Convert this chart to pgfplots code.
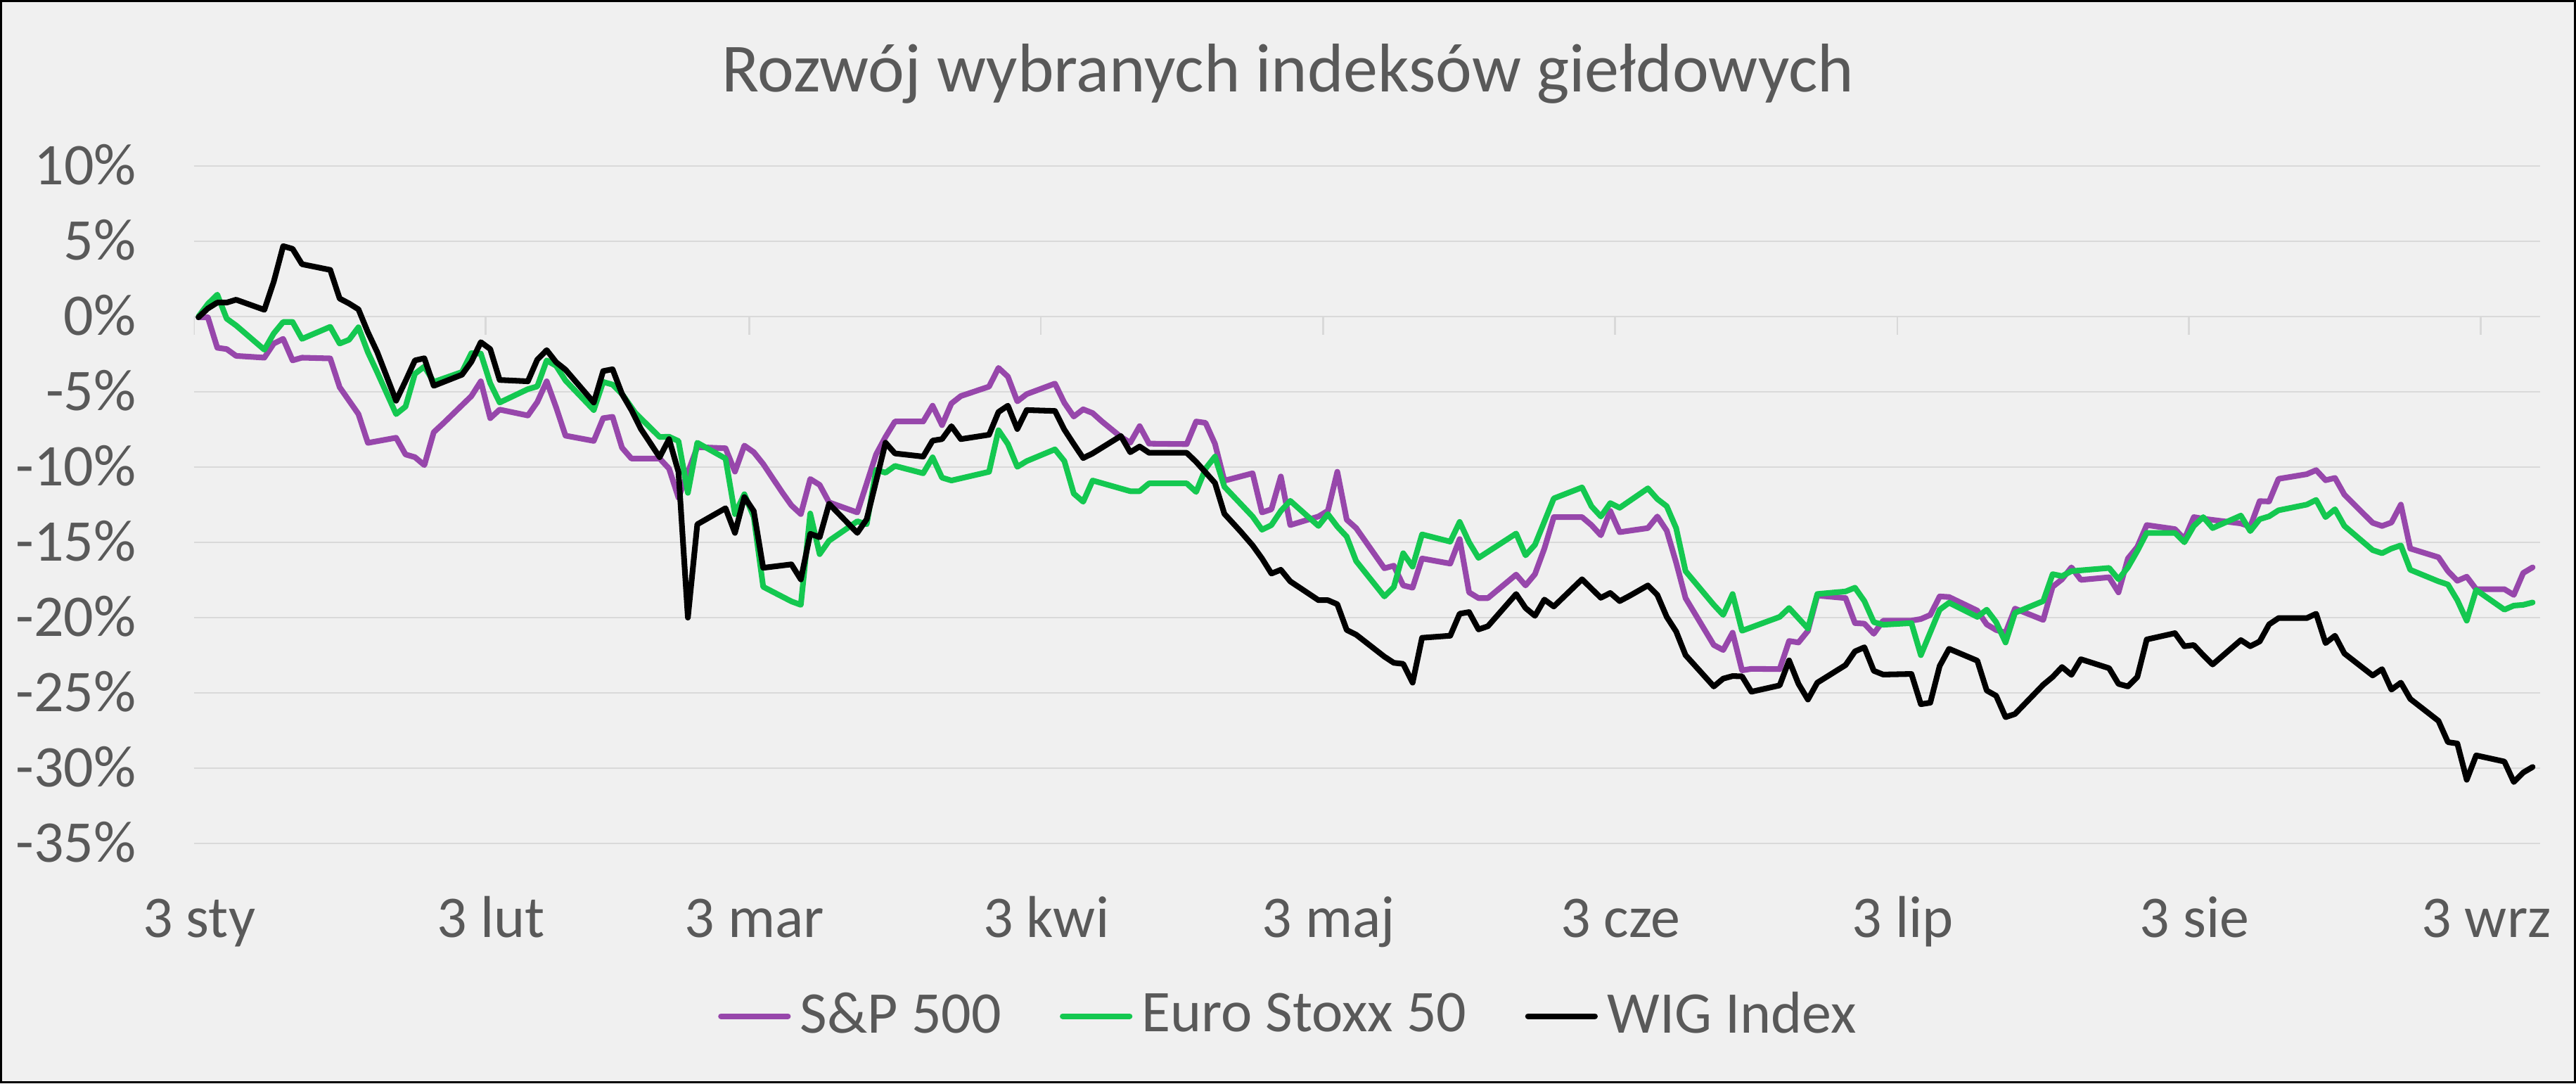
\documentclass[border=0pt]{standalone}
\usepackage{pgfplots}
\pgfplotsset{compat=1.18}
\usepackage{fontspec}
\setmainfont{Carlito}
\definecolor{spcol}{RGB}{151,71,171}
\definecolor{eucol}{RGB}{20,200,80}
\definecolor{txt}{RGB}{89,89,89}
\definecolor{grd}{RGB}{217,217,217}
\definecolor{bg}{RGB}{240,240,240}
\begin{document}
\begin{tikzpicture}
\useasboundingbox (0,0) rectangle (523.29pt,220pt);
\fill[bg] (0,0) rectangle (523.29pt,220pt);
\draw[black, line width=0.45pt] (0.22pt,0.22pt) rectangle (523.07pt,219.78pt);
\node[anchor=base, text=txt, font=\fontsize{14}{16}\selectfont, inner sep=0pt] at (261.64pt,201.4pt) {Rozwój wybranych indeksów giełdowych};
\begin{axis}[
 at={(39.36pt,48.71pt)}, anchor=south west,
 scale only axis, width=476.64pt, height=137.57pt,
 xmin=0, xmax=249.3, ymin=-35, ymax=10,
 axis line style={draw=none},
 major tick length=0pt,
 ytick={-35,-30,...,10},
 yticklabels={-35\%,-30\%,-25\%,-20\%,-15\%,-10\%,-5\%,0\%,5\%,10\%},
 xtick={0,31,59,90,120,151,181,212,243},
 xticklabels={3 sty,3 lut,3 mar,3 kwi,3 maj,3 cze,3 lip,3 sie,3 wrz},
 tick label style={font=\fontsize{12}{14}\selectfont, text=txt, inner sep=0pt},
 yticklabel style={anchor=base east, xshift=-11.5pt, yshift=-3.8pt},
 xticklabel style={anchor=base, yshift=-19pt, xshift=1.1pt},
 xmajorgrids=false, ymajorgrids=true, grid style={grd, line width=0.4pt},
 legend columns=3,
 legend style={at={(0.468,-0.255)}, anchor=center, draw=none, fill=none,
   font=\fontsize{12}{14}\selectfont, text=txt, inner sep=0pt,
   nodes={inner sep=1.9pt},
   /tikz/every even column/.append style={column sep=10pt}},
 legend image code/.code={\draw[#1, line width=1.15pt, line cap=round] (0pt,0pt) -- (13.6pt,0pt);},
 every axis plot/.append style={line width=1.15pt, line join=round, line cap=round},
]
\pgfplotsinvokeforeach{0,31,59,90,120,151,181,212,243}{
  \draw[grd, line width=0.4pt] (axis cs:#1,0) -- ([yshift=-3.7pt]axis cs:#1,0);
}
\addplot[spcol] coordinates {
(0.5,-0.05)(1.5,-0.05)(2.5,-2.07)(3.5,-2.16)(4.5,-2.61)(7.5,-2.73)(8.5,-1.79)(9.5,-1.48)(10.5,-2.91)(11.5,-2.73)
(14.5,-2.78)(15.5,-4.69)(17.5,-6.48)(18.5,-8.39)(21.5,-8.05)(22.5,-9.16)(23.5,-9.34)(24.5,-9.87)(25.5,-7.68)(26.5,-7.10)
(29.5,-5.28)(30.5,-4.30)(31.5,-6.75)(32.5,-6.18)(35.5,-6.57)(36.5,-5.68)(37.5,-4.30)(38.5,-6.03)(39.5,-7.91)(42.5,-8.26)
(43.5,-6.75)(44.5,-6.66)(45.5,-8.71)(46.5,-9.43)(49.5,-9.43)(50.5,-10.1)(51.5,-12.03)(53.5,-8.67)(56.5,-8.75)(57.5,-10.3)
(58.5,-8.57)(59.5,-9.01)(60.5,-9.79)(62.5,-11.66)(63.5,-12.54)(64.5,-13.12)(65.5,-10.79)(66.5,-11.18)(67.5,-12.34)(70.5,-13.01)
(71.5,-11.08)(72.5,-9.15)(73.5,-7.99)(74.5,-6.97)(77.5,-6.97)(78.5,-5.92)(79.5,-7.21)(80.5,-5.77)(81.5,-5.28)(84.5,-4.65)
(85.5,-3.41)(86.5,-3.99)(87.5,-5.63)(88.5,-5.15)(91.5,-4.45)(92.5,-5.73)(93.5,-6.64)(94.5,-6.16)(95.5,-6.41)(96.5,-6.97)
(98.5,-7.99)(99.5,-8.38)(100.5,-7.28)(101.5,-8.44)(105.5,-8.47)(106.5,-6.97)(107.5,-7.06)(108.5,-8.45)(109.5,-10.9)(112.5,-10.41)
(113.5,-13.01)(114.5,-12.8)(115.5,-10.62)(116.5,-13.85)(119.5,-13.28)(120.5,-12.9)(121.5,-10.31)(122.5,-13.49)(123.5,-14.05)(126.5,-16.72)
(127.5,-16.55)(128.5,-17.86)(129.5,-18.01)(130.5,-16.07)(133.5,-16.41)(134.5,-14.78)(135.5,-18.32)(136.5,-18.7)(137.5,-18.7)(140.5,-17.14)
(141.5,-17.86)(142.5,-17.11)(143.5,-15.41)(144.5,-13.32)(147.5,-13.32)(148.5,-13.85)(149.5,-14.53)(150.5,-12.91)(151.5,-14.32)(154.5,-14.05)
(155.5,-13.28)(156.5,-14.22)(157.5,-16.34)(158.5,-18.7)(161.5,-21.82)(162.5,-22.15)(163.5,-21.0)(164.5,-23.5)(165.5,-23.4)(168.5,-23.42)
(169.5,-21.55)(170.5,-21.65)(171.5,-20.88)(172.5,-18.53)(175.5,-18.7)(176.5,-20.36)(177.5,-20.4)(178.5,-21.07)(179.5,-20.2)(182.5,-20.2)
(183.5,-20.09)(184.5,-19.82)(185.5,-18.59)(186.5,-18.63)(189.5,-19.53)(190.5,-20.45)(191.5,-20.82)(192.5,-21.0)(193.5,-19.4)(196.5,-20.15)
(197.5,-17.95)(198.5,-17.45)(199.5,-16.66)(200.5,-17.49)(203.5,-17.32)(204.5,-18.32)(205.5,-16.07)(206.5,-15.3)(207.5,-13.85)(210.5,-14.12)
(211.5,-14.78)(212.5,-13.32)(213.5,-13.43)(217.5,-13.74)(218.5,-13.95)(219.5,-12.26)(220.5,-12.28)(221.5,-10.78)(224.5,-10.47)(225.5,-10.2)
(226.5,-10.87)(227.5,-10.72)(228.5,-11.83)(231.5,-13.7)(232.5,-13.91)(233.5,-13.68)(234.5,-12.49)(235.5,-15.41)(238.5,-15.99)(239.5,-16.91)
(240.5,-17.55)(241.5,-17.28)(242.5,-18.11)(245.5,-18.11)(246.5,-18.49)(247.5,-17.03)(248.5,-16.66)
};
\addlegendentry{S\&P 500}
\addplot[eucol] coordinates {
(0.5,0)(1.5,0.84)(2.5,1.46)(3.5,-0.14)(4.5,-0.59)(7.5,-2.2)(8.5,-1.12)(9.5,-0.36)(10.5,-0.36)(11.5,-1.48)
(14.5,-0.68)(15.5,-1.79)(16.5,-1.54)(17.5,-0.71)(18.5,-2.37)(19.5,-3.71)(21.5,-6.48)(22.5,-5.98)(23.5,-3.80)(24.5,-3.32)
(25.5,-4.34)(28.5,-3.68)(29.5,-2.43)(30.5,-2.46)(31.5,-4.43)(32.5,-5.71)(35.5,-4.82)(36.5,-4.64)(37.5,-2.91)(38.5,-3.27)
(39.5,-4.25)(42.5,-6.21)(43.5,-4.34)(44.5,-4.52)(45.5,-5.14)(46.9,-6.39)(49.5,-8.0)(50.5,-7.98)(51.5,-8.27)(52.5,-11.71)
(53.5,-8.38)(56.5,-9.43)(57.5,-13.12)(58.5,-11.80)(59.5,-13.31)(60.5,-17.95)(63.5,-18.92)(64.5,-19.15)(65.5,-13.08)(66.5,-15.78)
(67.5,-14.89)(70.5,-13.60)(71.5,-13.79)(72.5,-10.18)(73.5,-10.37)(74.5,-9.92)(77.5,-10.41)(78.5,-9.35)(79.5,-10.70)(80.5,-10.89)
(84.5,-10.31)(85.5,-7.55)(86.5,-8.47)(87.5,-9.98)(88.5,-9.60)(91.5,-8.82)(92.5,-9.60)(93.5,-11.76)(94.5,-12.30)(95.5,-10.89)
(99.5,-11.60)(100.5,-11.60)(101.5,-11.08)(105.5,-11.08)(106.5,-11.65)(107.5,-10.1)(108.5,-9.3)(109.5,-11.3)(112.5,-13.28)(113.5,-14.16)
(114.5,-13.85)(115.5,-12.91)(116.5,-12.24)(119.5,-13.91)(120.5,-13.12)(121.5,-13.95)(122.5,-14.62)(123.5,-16.24)(126.5,-18.59)(127.5,-17.97)
(128.5,-15.72)(129.5,-16.61)(130.5,-14.47)(133.5,-14.95)(134.5,-13.64)(135.5,-14.99)(136.5,-16.03)(140.5,-14.41)(141.5,-15.86)(142.5,-15.16)
(144.5,-12.08)(147.5,-11.35)(148.5,-12.6)(149.5,-13.28)(150.5,-12.39)(151.5,-12.7)(154.5,-11.41)(155.5,-12.12)(156.5,-12.6)(157.5,-14.05)
(158.5,-16.91)(161.5,-19.15)(162.5,-19.82)(163.5,-18.43)(164.5,-20.87)(168.5,-19.95)(169.5,-19.36)(171.5,-20.72)(172.5,-18.43)(175.5,-18.26)
(176.5,-18.01)(177.5,-18.9)(178.5,-20.3)(179.5,-20.47)(182.5,-20.36)(183.5,-22.49)(185.5,-19.47)(186.5,-19.01)(189.5,-19.95)(190.5,-19.47)
(191.5,-20.3)(192.5,-21.65)(193.5,-19.68)(196.5,-18.9)(197.5,-17.11)(198.5,-17.24)(199.5,-16.91)(203.5,-16.7)(204.5,-17.45)(205.5,-16.66)
(206.5,-15.57)(207.5,-14.37)(210.5,-14.37)(211.5,-14.99)(212.5,-13.91)(213.5,-13.32)(214.5,-14.05)(217.5,-13.22)(218.5,-14.25)(219.5,-13.46)
(220.5,-13.27)(221.5,-12.87)(224.5,-12.49)(225.5,-12.18)(226.5,-13.32)(227.5,-12.8)(228.5,-13.91)(231.5,-15.51)(232.5,-15.72)(233.5,-15.41)
(234.5,-15.2)(235.5,-16.82)(238.5,-17.59)(239.5,-17.8)(240.5,-18.84)(241.5,-20.2)(242.5,-18.16)(245.5,-19.47)(246.5,-19.2)(247.5,-19.15)
(248.5,-18.99)
};
\addlegendentry{Euro Stoxx 50}
\addplot[black] coordinates {
(0.5,-0.05)(1.5,0.54)(2.5,0.93)(3.5,0.93)(4.5,1.12)(7.5,0.45)(8.5,2.32)(9.5,4.68)(10.5,4.5)(11.5,3.48)
(14.5,3.1)(15.5,1.2)(16.5,0.87)(17.5,0.48)(18.5,-1.04)(19.5,-2.37)(21.5,-5.59)(22.5,-4.28)(23.5,-2.91)(24.5,-2.77)
(25.5,-4.6)(28.5,-3.86)(29.5,-3.0)(30.5,-1.70)(31.5,-2.16)(32.5,-4.21)(35.5,-4.30)(36.5,-2.86)(37.5,-2.23)(38.5,-3.03)
(39.5,-3.53)(42.5,-5.71)(43.5,-3.62)(44.5,-3.50)(45.5,-5.14)(46.5,-6.21)(47.5,-7.46)(49.5,-9.34)(50.5,-8.14)(51.5,-10.32)
(52.5,-20.0)(53.5,-13.8)(56.5,-12.73)(57.5,-14.37)(58.5,-11.99)(59.5,-12.92)(60.5,-16.69)(63.5,-16.46)(64.5,-17.46)(65.5,-14.43)
(66.5,-14.66)(67.5,-12.44)(70.5,-14.37)(71.5,-13.46)(73.5,-8.38)(74.5,-9.09)(77.5,-9.30)(78.5,-8.24)(79.5,-8.14)(80.5,-7.28)
(81.5,-8.14)(84.5,-7.85)(85.5,-6.34)(86.5,-5.92)(87.5,-7.47)(88.5,-6.21)(91.5,-6.27)(92.5,-7.51)(93.5,-8.47)(94.5,-9.40)
(95.5,-9.09)(98.5,-7.93)(99.5,-9.01)(100.5,-8.63)(101.5,-9.05)(105.5,-9.05)(106.5,-9.65)(108.5,-11.05)(109.5,-13.1)(111.2,-14.26)
(112.5,-15.2)(113.5,-16.07)(114.5,-17.07)(115.5,-16.82)(116.5,-17.59)(119.5,-18.84)(120.5,-18.84)(121.5,-19.11)(122.5,-20.82)(123.5,-21.13)
(126.5,-22.59)(127.5,-23.0)(128.5,-23.07)(129.5,-24.32)(130.5,-21.34)(133.5,-21.2)(134.5,-19.74)(135.5,-19.63)(136.5,-20.78)(137.5,-20.57)
(140.5,-18.43)(141.5,-19.36)(142.5,-19.88)(143.5,-18.8)(144.5,-19.26)(147.5,-17.45)(148.5,-18.07)(149.5,-18.68)(150.5,-18.36)(151.5,-18.9)
(152.5,-18.57)(154.5,-17.86)(155.5,-18.49)(156.5,-19.95)(157.5,-20.92)(158.5,-22.49)(161.5,-24.57)(162.5,-24.05)(163.5,-23.88)(164.5,-23.9)
(165.5,-24.92)(168.5,-24.5)(169.5,-22.84)(170.5,-24.4)(171.5,-25.44)(172.5,-24.32)(175.5,-23.15)(176.5,-22.24)(177.5,-21.97)(178.5,-23.53)
(179.5,-23.78)(182.5,-23.74)(183.5,-25.75)(184.5,-25.65)(185.5,-23.21)(186.5,-22.07)(189.5,-22.86)(190.5,-24.84)(191.5,-25.19)(192.5,-26.61)
(193.5,-26.4)(196.5,-24.46)(197.5,-23.94)(198.5,-23.28)(199.5,-23.8)(200.5,-22.76)(203.5,-23.36)(204.5,-24.4)(205.5,-24.57)(206.5,-23.94)
(207.5,-21.45)(210.5,-21.03)(211.5,-21.9)(212.5,-21.82)(213.5,-22.49)(214.5,-23.11)(217.5,-21.49)(218.5,-21.9)(219.5,-21.58)(220.5,-20.45)
(221.5,-20.03)(224.5,-20.03)(225.5,-19.74)(226.5,-21.69)(227.5,-21.2)(228.5,-22.38)(231.5,-23.84)(232.5,-23.42)(233.5,-24.78)(234.5,-24.32)
(235.5,-25.4)(238.5,-26.86)(239.5,-28.27)(240.5,-28.36)(241.5,-30.77)(242.5,-29.15)(245.5,-29.56)(246.5,-30.92)(247.5,-30.29)(248.5,-29.92)
};
\addlegendentry{WIG Index}
\end{axis}
\end{tikzpicture}
\end{document}
